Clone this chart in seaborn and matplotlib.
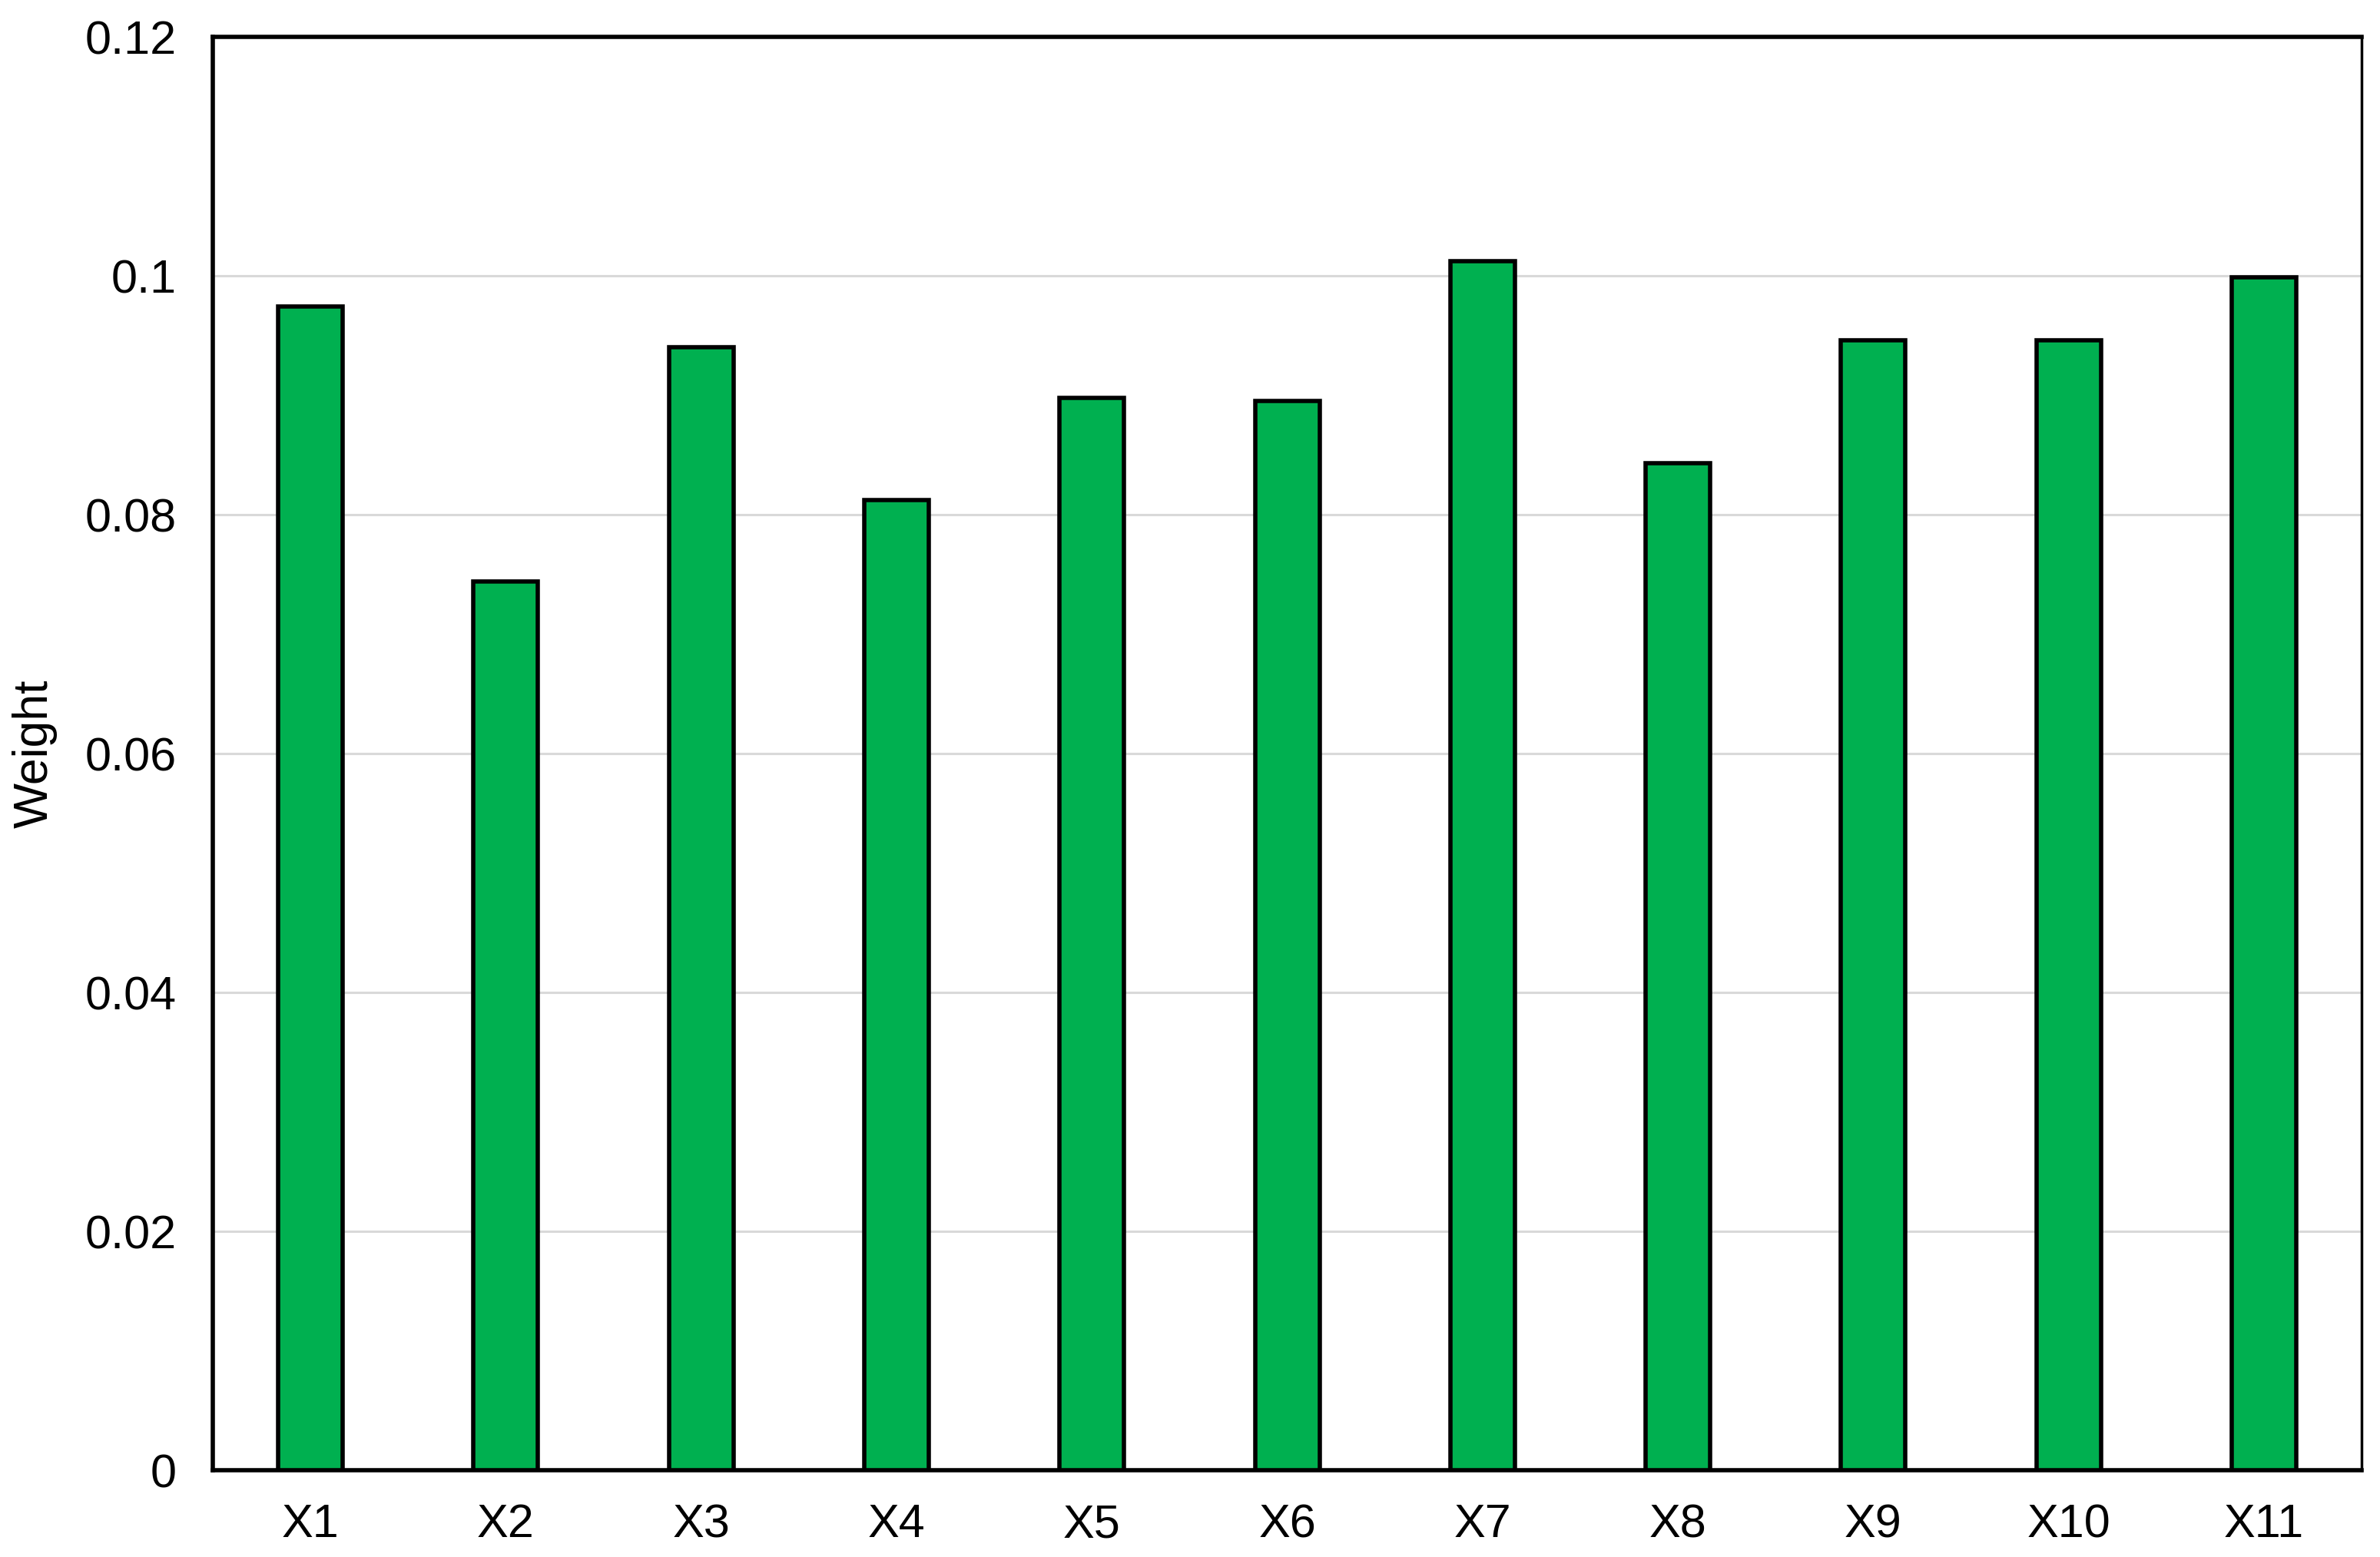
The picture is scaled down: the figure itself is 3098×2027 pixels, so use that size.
import matplotlib
matplotlib.use("Agg")
import matplotlib.pyplot as plt
import seaborn as sns
import pandas as pd

categories = ["X1", "X2", "X3", "X4", "X5", "X6", "X7", "X8", "X9", "X10", "X11"]
weights = [0.0974, 0.0744, 0.0940, 0.0812, 0.0898, 0.0895, 0.1012, 0.0843, 0.0946, 0.0946, 0.0999]
yticks = [0, 0.02, 0.04, 0.06, 0.08, 0.1, 0.12]
ytick_labels = ["0", "0.02", "0.04", "0.06", "0.08", "0.1", "0.12"]

sns.set_theme(style="white")
plt.rcParams["font.family"] = ["Liberation Sans", "DejaVu Sans"]

df = pd.DataFrame({"cat": categories, "w": weights})

fig = plt.figure(figsize=(30.98, 20.27), dpi=100)
ax = fig.add_axes([0.0894, 0.0557, 0.9923 - 0.0894, 0.9763 - 0.0557])

sns.barplot(data=df, x="cat", y="w", color="#00B050", saturation=1, width=0.33,
            edgecolor="black", linewidth=4, ax=ax, zorder=3)

ax.set_xlim(-0.5, len(categories) - 0.5)
ax.set_ylim(0, 0.12)
ax.set_yticks(yticks)
ax.set_yticklabels(ytick_labels)
ax.yaxis.grid(True, color="#d9d9d9", linewidth=2.2, zorder=0)
ax.xaxis.grid(False)
ax.set_axisbelow(True)

ax.tick_params(axis="both", length=0, labelsize=44, colors="black")
ax.tick_params(axis="y", pad=34)
ax.tick_params(axis="x", pad=31)

ax.set_xlabel("")
ax.set_ylabel("Weight", fontsize=45, color="black")
ax.yaxis.set_label_coords(-0.0722, 0.5)

for side in ["left", "bottom", "top"]:
    ax.spines[side].set_visible(True)
    ax.spines[side].set_color("black")
    ax.spines[side].set_linewidth(4.0)
ax.spines["right"].set_visible(True)
ax.spines["right"].set_color("black")
ax.spines["right"].set_linewidth(2.5)

fig.savefig("out.png", dpi=100, facecolor="white")
